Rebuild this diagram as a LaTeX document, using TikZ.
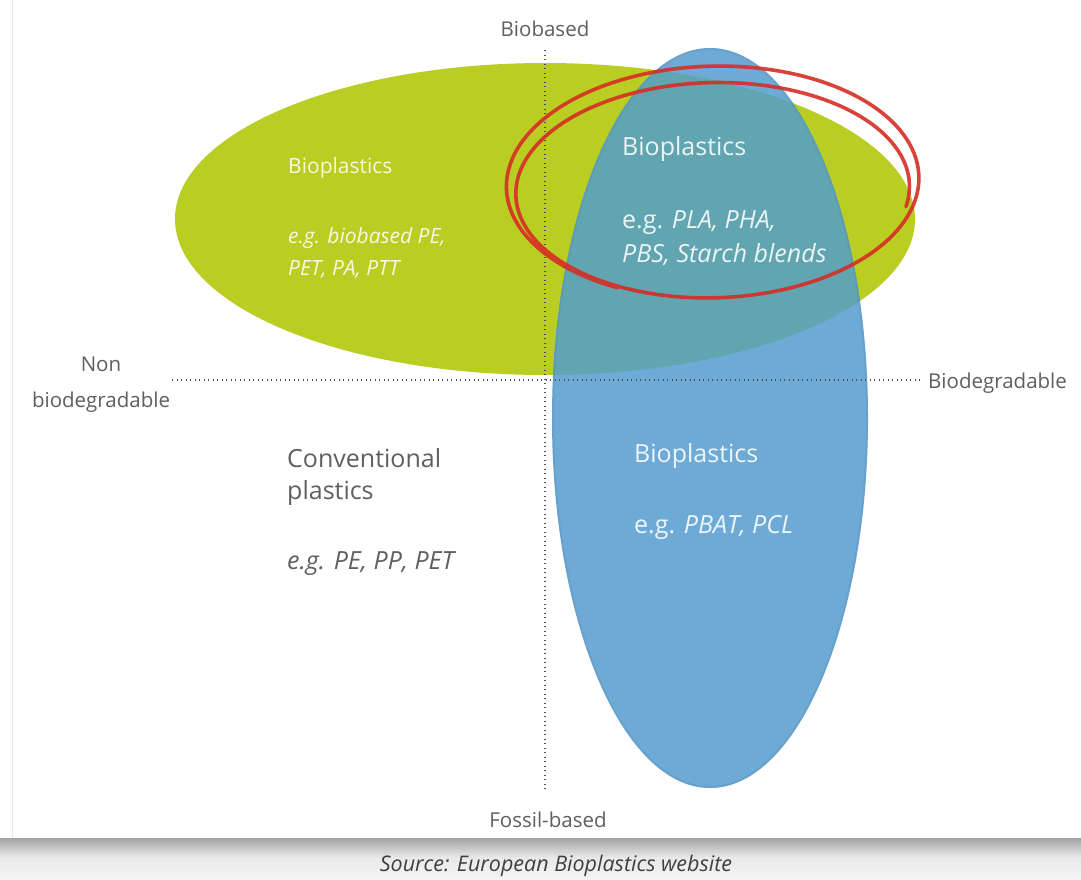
\documentclass[tikz,border=0pt]{standalone}
\usepackage{fontspec}
\setmainfont{Open Sans}
\usetikzlibrary{backgrounds}
\definecolor{leafgreen}{RGB}{185,205,34}
\definecolor{skyblue}{RGB}{110,170,214}
\definecolor{tealmix}{RGB}{96,165,176}
\definecolor{penred}{RGB}{214,46,36}
\definecolor{labelgrey}{RGB}{95,95,95}
\definecolor{axisgrey}{RGB}{80,80,80}
\tikzset{
  axislabel/.style={inner sep=0pt, text=labelgrey, font=\fontsize{20.5}{24}\selectfont},
  bigtext/.style={inner sep=0pt, anchor=base west, font=\fontsize{25}{30}\selectfont},
  smalltext/.style={inner sep=0pt, anchor=base west, font=\fontsize{21}{25}\selectfont},
  onfill/.style={text=white, text opacity=0.88},
  axisline/.style={draw=axisgrey, line width=1.3pt, dash pattern=on 1.3pt off 3.2pt},
}
\begin{document}
\begin{tikzpicture}[x=1pt, y=-1pt]
\useasboundingbox (0,0) rectangle (1081,879);
\fill[white] (0,0) rectangle (1081,879);

% card edge and drop shadow beneath it
\draw[gray!18, line width=1pt] (12,0) -- (12,838);
\shade[top color=gray!72, bottom color=gray!18] (0,838) rectangle (1081,857);
\shade[top color=gray!18, bottom color=gray!8] (0,857) rectangle (1081,879);

% the two families of bioplastics
\fill[leafgreen] (545,219) ellipse [x radius=370, y radius=156];
\fill[skyblue] (710,418) ellipse [x radius=158, y radius=370];
\begin{scope}
  \clip (545,219) ellipse [x radius=370, y radius=156];
  \fill[tealmix] (710,418) ellipse [x radius=158, y radius=370];
\end{scope}
\draw[skyblue!80!black, line width=2pt, opacity=0.25] (710,418) ellipse [x radius=157, y radius=369];

% axes
\coordinate (ytop) at (545,50);
\coordinate (ybot) at (545,790);
\coordinate (xleft) at (172,380);
\coordinate (xright) at (922,380);
\draw[axisline] (ytop) -- (ybot);
\draw[axisline] (xleft) -- (xright);

\node[axislabel, anchor=base] (biobased) at (545,36) {Biobased};
\node[axislabel, anchor=base] (fossil) at (548,827) {Fossil-based};
\node[axislabel, anchor=base] (non) at (101,371) {Non};
\node[axislabel, anchor=base] (nonbio) at (101,407) {biodegradable};
\node[axislabel, anchor=base west] (biodeg) at (928,388) {Biodegradable};

% texts inside the regions
\node[smalltext, onfill] (gA1) at (288,173) {Bioplastics};
\node[smalltext, onfill] (gA2) at (288,243) {\itshape e.g. biobased PE,};
\node[smalltext, onfill] (gA3) at (288,275) {\itshape PET, PA, PTT};

\node[bigtext, onfill] (tB1) at (622,155) {Bioplastics};
\node[bigtext, onfill] (tB2) at (622,228) {e.g. \itshape PLA, PHA,};
\node[bigtext, onfill] (tB3) at (622,262) {\itshape PBS, Starch blends};

\node[bigtext, onfill] (bC1) at (634,462) {Bioplastics};
\node[bigtext, onfill] (bC2) at (634,533) {e.g. \itshape PBAT, PCL};

\node[bigtext, text=labelgrey] (cD1) at (287,467) {Conventional};
\node[bigtext, text=labelgrey] (cD2) at (287,499) {plastics};
\node[bigtext, text=labelgrey] (cD3) at (287,569) {\itshape e.g. PE, PP, PET};

% hand-drawn loop around the overlap
\draw[penred, line width=3.6pt, opacity=0.9, line cap=round, line join=round]
  plot[smooth, samples=220, domain=115:728, variable=\t]
  ({715 + (210-16*(\t-115)/613)*cos(\t) - 0.08*(120-15*(\t-115)/613)*sin(\t)},
   {179 + 13*(\t-115)/613 + (120-15*(\t-115)/613)*sin(\t)});

% source line
\node[inner sep=0pt, anchor=base, text=axisgrey!80!black, font=\fontsize{21.5}{25}\selectfont\itshape] (source) at (556,871) {Source: European Bioplastics website};
\end{tikzpicture}
\end{document}
